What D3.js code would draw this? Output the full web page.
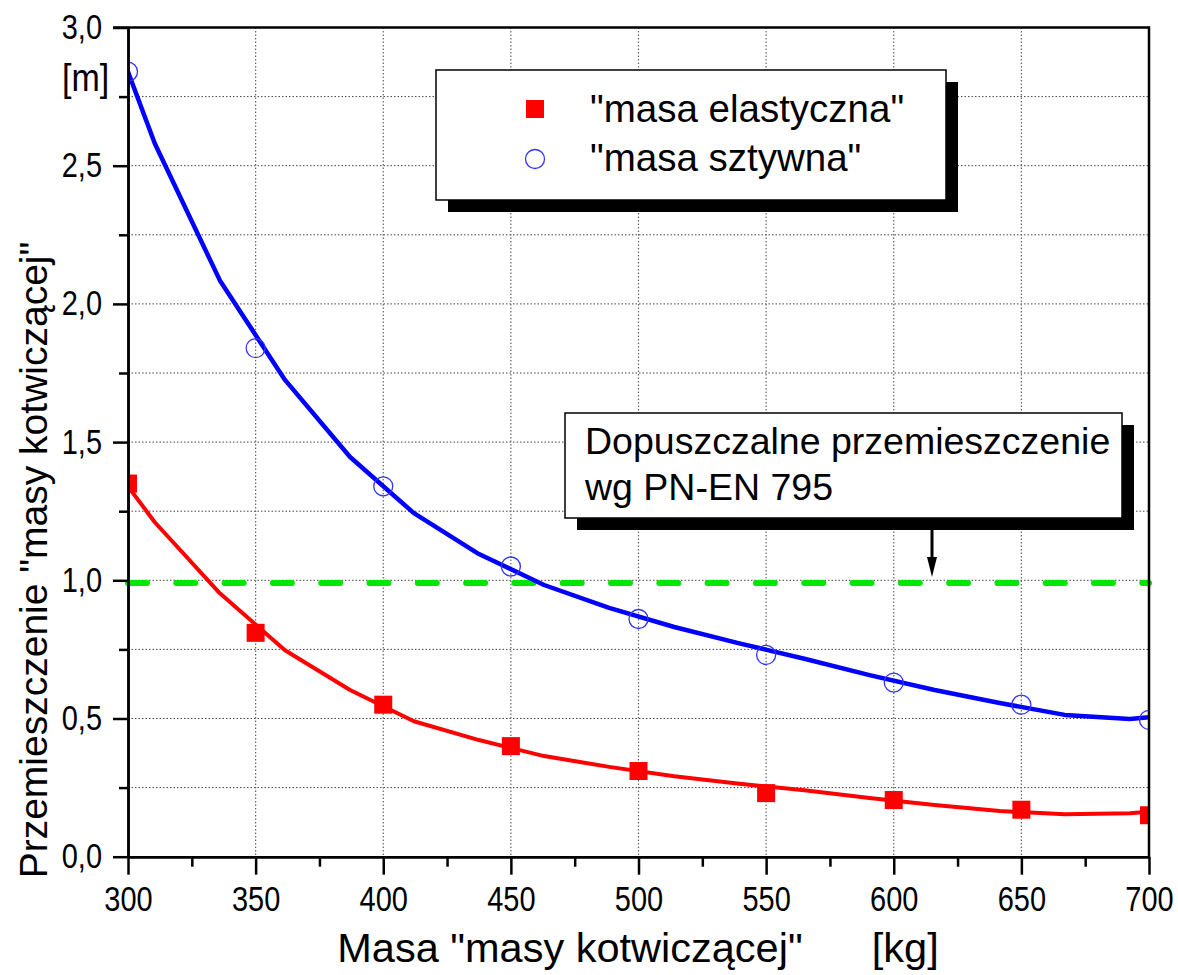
<!DOCTYPE html>
<html>
<head>
<meta charset="utf-8">
<script src="https://cdn.jsdelivr.net/npm/d3@7"></script>
<style>
  body { margin: 0; background: #fff; }
  text { font-family: "Liberation Sans", Arial, sans-serif; }
</style>
</head>
<body>
<div id="container"></div>
<script>
// measured values (kg -> m)
const masses = [300, 350, 400, 450, 500, 550, 600, 650, 700];
const elasticValues = [1.35, 0.81, 0.55, 0.40, 0.31, 0.23, 0.205, 0.17, 0.15];
const rigidValues = [2.84, 1.84, 1.34, 1.05, 0.86, 0.73, 0.63, 0.55, 0.495];

// fitted curves
const fitMasses = [300, 310.5, 336, 361.5, 387, 412, 437.5, 463, 488.5, 514, 539.5, 565, 590.5, 616, 641.5, 667, 692.5, 700];
const elasticFit = [1.34, 1.21, 0.953, 0.747, 0.603, 0.49, 0.422, 0.364, 0.325, 0.291, 0.264, 0.24, 0.212, 0.187, 0.165, 0.154, 0.157, 0.163];
const rigidFit = [2.84, 2.58, 2.085, 1.725, 1.446, 1.243, 1.095, 0.983, 0.90, 0.831, 0.772, 0.716, 0.657, 0.603, 0.556, 0.513, 0.498, 0.505];

const limitValue = 0.99;

const xTicks = [300, 350, 400, 450, 500, 550, 600, 650, 700];
const yTicks = [0, 0.5, 1.0, 1.5, 2.0, 2.5, 3.0];

const seriesNames = ['"masa elastyczna"', '"masa sztywna"'];
const noteLines = ["Dopuszczalne przemieszczenie", "wg PN-EN 795"];

// set the dimensions and margins of the graph
var margin = { top: 27.5, right: 29, bottom: 118, left: 128 },
  width = 1021,
  height = 829.2;

const root = d3
  .select("#container")
  .append("svg")
  .attr("width", 1178)
  .attr("height", 975);

const svg = root
  .append("g")
  .attr("id", "chart")
  .attr("transform", "translate(" + margin.left + "," + margin.top + ")");

const x = d3.scaleLinear().domain([300, 700]).range([0, width]);
const y = d3.scaleLinear().domain([0, 3]).range([height, 0]);

const fmt = d => d3.format(".1f")(d).replace(".", ",");

svg
  .append("clipPath")
  .attr("id", "plot-clip")
  .append("rect")
  .attr("width", width)
  .attr("height", height);

//grid
const grid = svg.append("g").attr("id", "grid");

grid
  .selectAll("line.hgrid")
  .data(d3.range(0.25, 3, 0.25))
  .enter()
  .append("line")
  .attr("class", "hgrid")
  .attr("x1", 0)
  .attr("x2", width)
  .attr("y1", d => y(d))
  .attr("y2", d => y(d))
  .attr("stroke", "#444")
  .attr("stroke-width", 1)
  .attr("stroke-dasharray", "1.5,2");

grid
  .selectAll("line.vgrid")
  .data(xTicks.slice(1, -1))
  .enter()
  .append("line")
  .attr("class", "vgrid")
  .attr("x1", d => x(d))
  .attr("x2", d => x(d))
  .attr("y1", 0)
  .attr("y2", height)
  .attr("stroke", "#666")
  .attr("stroke-width", 1.2)
  .attr("stroke-dasharray", "1.5,2");

// limit line
svg
  .append("line")
  .attr("x1", 0)
  .attr("x2", width)
  .attr("y1", y(limitValue))
  .attr("y2", y(limitValue))
  .attr("stroke", "#00e600")
  .attr("stroke-width", 6)
  .attr("stroke-linecap", "round")
  .attr("stroke-dasharray", "19,29.3");

const plot = svg.append("g").attr("clip-path", "url(#plot-clip)");

const line = d3
  .line()
  .x(d => x(d[0]))
  .y(d => y(d[1]));

plot
  .append("path")
  .datum(d3.zip(fitMasses, elasticFit))
  .attr("d", line)
  .attr("fill", "none")
  .attr("stroke", "#ff0000")
  .attr("stroke-width", 4)
  .attr("stroke-linejoin", "round");

plot
  .append("path")
  .datum(d3.zip(fitMasses, rigidFit))
  .attr("d", line)
  .attr("fill", "none")
  .attr("stroke", "#0000ff")
  .attr("stroke-width", 4.5)
  .attr("stroke-linejoin", "round");

const sq = 18;
plot
  .selectAll("rect.elastic")
  .data(d3.zip(masses, elasticValues))
  .enter()
  .append("rect")
  .attr("class", "elastic")
  .attr("x", d => x(d[0]) - sq / 2)
  .attr("y", d => y(d[1]) - sq / 2)
  .attr("width", sq)
  .attr("height", sq)
  .attr("fill", "#ff0000");

plot
  .selectAll("circle.rigid")
  .data(d3.zip(masses, rigidValues))
  .enter()
  .append("circle")
  .attr("class", "rigid")
  .attr("cx", d => x(d[0]))
  .attr("cy", d => y(d[1]))
  .attr("r", 9.5)
  .attr("fill", "none")
  .attr("stroke", "#3333ff")
  .attr("stroke-width", 1.3);

// frame: top and right
svg
  .append("path")
  .attr("d", `M-15,0H${width}V${height}`)
  .attr("fill", "none")
  .attr("stroke", "#000")
  .attr("stroke-width", 2.5);

//axes
const xAxis = svg
  .append("g")
  .attr("transform", "translate(0," + height + ")")
  .call(
    d3
      .axisBottom(x)
      .tickValues(xTicks)
      .tickFormat(d3.format("d"))
      .tickSize(18)
      .tickSizeOuter(0)
      .tickPadding(7.5)
  );

const xMinor = svg
  .append("g")
  .attr("transform", "translate(0," + height + ")")
  .call(
    d3
      .axisBottom(x)
      .tickValues(d3.range(325, 700, 50))
      .tickFormat("")
      .tickSize(10)
      .tickSizeOuter(0)
  );

const yAxis = svg
  .append("g")
  .call(
    d3
      .axisLeft(y)
      .tickValues(yTicks)
      .tickFormat(fmt)
      .tickSize(15)
      .tickSizeOuter(0)
      .tickPadding(11)
  );

const yMinor = svg
  .append("g")
  .call(
    d3
      .axisLeft(y)
      .tickValues(d3.range(0.25, 3, 0.5))
      .tickFormat("")
      .tickSize(9)
      .tickSizeOuter(0)
  );

// tick labels in the picture are a bit taller than plain Arial
[xAxis, xMinor, yAxis, yMinor].forEach(a => {
  a.select(".domain").attr("stroke-width", 2.5);
  a.selectAll(".tick line").attr("stroke-width", 2.5);
  a.selectAll("text")
    .attr("font-family", "Liberation Sans, Arial, sans-serif")
    .attr("font-size", "29px")
    .attr("transform", "scale(1,1.18)")
    .attr("fill", "#000");
});

// axis titles
root
  .append("text")
  .attr("x", 638)
  .attr("y", 962)
  .attr("text-anchor", "middle")
  .attr("font-size", "41.5px")
  .style("white-space", "pre")
  .text('Masa "masy kotwiczącej"      [kg]');

root
  .append("text")
  .attr("transform", "translate(47,560) rotate(-90)")
  .attr("text-anchor", "middle")
  .attr("font-size", "39px")
  .text('Przemieszczenie "masy kotwiczącej"');

root
  .append("text")
  .attr("transform", "translate(62,91) scale(1,1.12)")
  .attr("font-size", "34px")
  .text("[m]");

// legend
const legend = root.append("g").attr("id", "legend");

legend
  .append("rect")
  .attr("x", 448)
  .attr("y", 82)
  .attr("width", 510)
  .attr("height", 130)
  .attr("fill", "#000");

legend
  .append("rect")
  .attr("x", 436)
  .attr("y", 70)
  .attr("width", 510)
  .attr("height", 130)
  .attr("fill", "#fff")
  .attr("stroke", "#000")
  .attr("stroke-width", 1.5);

legend
  .append("rect")
  .attr("x", 535 - sq / 2)
  .attr("y", 109 - sq / 2)
  .attr("width", sq)
  .attr("height", sq)
  .attr("fill", "#ff0000");

legend
  .append("circle")
  .attr("cx", 535)
  .attr("cy", 159)
  .attr("r", 9.5)
  .attr("fill", "none")
  .attr("stroke", "#3333ff")
  .attr("stroke-width", 1.3);

legend
  .selectAll("text")
  .data(seriesNames)
  .enter()
  .append("text")
  .attr("x", 590)
  .attr("y", (d, i) => 122 + i * 49)
  .attr("font-size", "38.5px")
  .text(d => d);

// annotation box
const note = root.append("g").attr("id", "note");

note
  .append("rect")
  .attr("x", 577)
  .attr("y", 425)
  .attr("width", 557)
  .attr("height", 105)
  .attr("fill", "#000");

note
  .append("rect")
  .attr("x", 565)
  .attr("y", 413)
  .attr("width", 557)
  .attr("height", 105)
  .attr("fill", "#fff")
  .attr("stroke", "#000")
  .attr("stroke-width", 1.5);

note
  .selectAll("text")
  .data(noteLines)
  .enter()
  .append("text")
  .attr("x", 585)
  .attr("y", (d, i) => 454 + i * 46)
  .attr("font-size", "37.5px")
  .text(d => d);

// arrow down to the limit line
const tipY = margin.top + y(limitValue) - 6;
note
  .append("line")
  .attr("x1", 932)
  .attr("x2", 932)
  .attr("y1", 518)
  .attr("y2", tipY - 14)
  .attr("stroke", "#000")
  .attr("stroke-width", 3);

note
  .append("path")
  .attr("d", `M${932 - 5},${tipY - 20}L${932 + 5},${tipY - 20}L932,${tipY}Z`)
  .attr("fill", "#000");
</script>
</body>
</html>
